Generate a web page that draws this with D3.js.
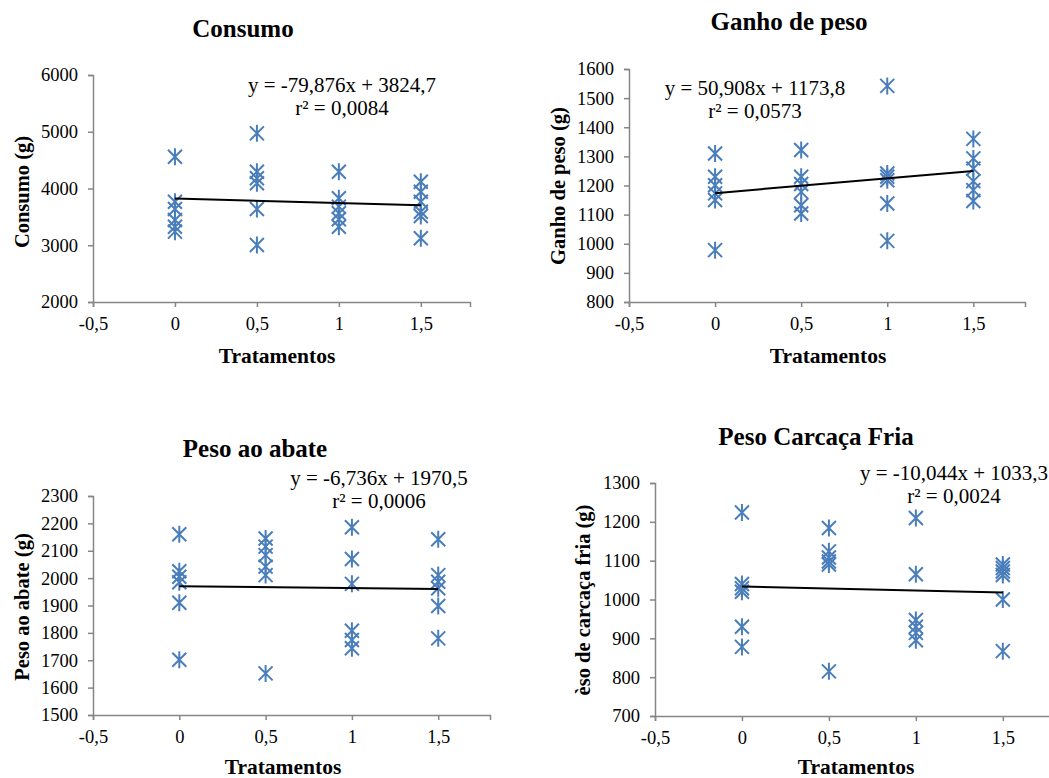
<!DOCTYPE html>
<html><head><meta charset="utf-8">
<script src="https://cdn.jsdelivr.net/npm/d3@7"></script>
<style>
html,body{margin:0;padding:0;background:#fff;}
svg{display:block;}
svg text{font-family:"Liberation Serif","Times New Roman",serif !important;}
</style></head>
<body>
<svg id="chart" width="1049" height="778"></svg>
<script>
// ---------------- DATA ----------------
const treatments = [0, 0.5, 1, 1.5];
const xTickValues = [-0.5, 0, 0.5, 1, 1.5];

// Consumo (g): six replicates per treatment
const consumo = [
  [4560, 3767, 3638, 3445, 3327, 3240],
  [4972, 4296, 4180, 4092, 3638, 3004],
  [4296, 3827, 3680, 3563, 3457, 3327],
  [4120, 3944, 3767, 3591, 3516, 3123]
];
const consumoTicks = [2000, 3000, 4000, 5000, 6000];
const consumoFit = {slope: -79.876, intercept: 3824.7};

// Ganho de peso (g)
const ganho = [
  [1310, 1230, 1201, 1173, 1150, 978],
  [1322, 1230, 1205, 1178, 1132, 1104],
  [1542, 1241, 1230, 1218, 1138, 1010],
  [1360, 1293, 1258, 1215, 1184, 1147]
];
const ganhoTicks = [800, 900, 1000, 1100, 1200, 1300, 1400, 1500, 1600];
const ganhoFit = {slope: 50.908, intercept: 1173.8};

// Peso ao abate (g)
const abate = [
  [2160, 2025, 2005, 1985, 1910, 1702],
  [2145, 2115, 2084, 2042, 2011, 1652],
  [2186, 2070, 1979, 1808, 1774, 1744],
  [2142, 2011, 1987, 1963, 1898, 1780]
];
const abateTicks = [1500, 1600, 1700, 1800, 1900, 2000, 2100, 2200, 2300];
const abateFit = {slope: -6.736, intercept: 1970.5};

// Peso carcaça fria (g)
const carcaca = [
  [1224, 1040, 1029, 1020, 930, 878],
  [1184, 1124, 1108, 1098, 1090, 815],
  [1210, 1065, 947, 930, 914, 895],
  [1090, 1081, 1072, 1063, 1000, 867]
];
const carcacaTicks = [700, 800, 900, 1000, 1100, 1200, 1300];
const carcacaFit = {slope: -10.044, intercept: 1033.3};

const titles = ["Consumo", "Ganho de peso", "Peso ao abate", "Peso Carcaça Fria"];
const yLabels = ["Consumo (g)", "Ganho de peso (g)", "Peso ao abate (g)", "èso de carcaça fria (g)"];
const xLabel = "Tratamentos";
const eqLines = [
  ["y = -79,876x + 3824,7", "r² = 0,0084"],
  ["y = 50,908x + 1173,8", "r² = 0,0573"],
  ["y = -6,736x + 1970,5", "r² = 0,0006"],
  ["y = -10,044x + 1033,3", "r² = 0,0024"]
];

// ---------------- LAYOUT ----------------
const layout = [
  {left: 93, right: 470, top: 75, bottom: 302, title: [243, 37], ylab: [22, 192], xlab: [277, 363], eq: [342, 91.7]},
  {left: 629, right: 1025, top: 69, bottom: 302, title: [789, 30], ylab: [558, 186], xlab: [828, 363], eq: [755, 95]},
  {left: 93, right: 490, top: 496, bottom: 715, title: [255, 457], ylab: [22, 607], xlab: [283, 774], eq: [379, 485]},
  {left: 655, right: 1055, top: 483, bottom: 716, title: [816, 445], ylab: [583, 600], xlab: [856, 774], eq: [954, 480]}
];

const seriesList = [consumo, ganho, abate, carcaca];
const tickList = [consumoTicks, ganhoTicks, abateTicks, carcacaTicks];
const fitList = [consumoFit, ganhoFit, abateFit, carcacaFit];

const axisColor = "#868686";
const markColor = "#4a7ebb";
const FONT = '"Liberation Serif", "Times New Roman", serif';
const fmt = d => String(d).replace(".", ",");

const svg = d3.select("#chart");

seriesList.forEach((series, i) => {
  const L = layout[i];
  const ticks = tickList[i];
  const fit = fitList[i];
  const g = svg.append("g");

  const x = d3.scaleLinear().domain([-0.5, 1.8]).range([L.left, L.right]);
  const y = d3.scaleLinear().domain([ticks[0], ticks[ticks.length - 1]]).range([L.bottom, L.top]);

  const yAxis = g.append("g").attr("transform", `translate(${L.left},0)`)
    .call(d3.axisLeft(y).tickValues(ticks).tickSize(5).tickPadding(10).tickFormat(fmt));
  const xAxis = g.append("g").attr("transform", `translate(0,${L.bottom})`)
    .call(d3.axisBottom(x).tickValues(xTickValues).tickSize(5).tickPadding(10).tickFormat(fmt));
  [yAxis, xAxis].forEach(a => {
    a.attr("font-family", null).style("font-family", FONT);
    a.selectAll("path.domain").attr("stroke", axisColor).attr("stroke-width", 1.5);
    a.selectAll(".tick line").attr("stroke", axisColor).attr("stroke-width", 1.5);
    a.selectAll(".tick text").attr("fill", "#000").attr("font-size", null)
      .style("font-size", "18.5px").style("font-family", FONT);
  });

  const pts = [];
  series.forEach((vals, k) => vals.forEach(v => pts.push([treatments[k], v])));
  const r = 7, rv = 8.5;
  const mk = g.append("g").attr("stroke", markColor).attr("stroke-width", 2).attr("fill", "none");
  mk.selectAll("path").data(pts).join("path")
    .attr("d", d => {
      const cx = x(d[0]), cy = y(d[1]);
      return `M${cx - r},${cy - r}L${cx + r},${cy + r}M${cx - r},${cy + r}L${cx + r},${cy - r}M${cx},${cy - rv}L${cx},${cy + rv}`;
    });

  const line = d3.line().x(d => x(d)).y(d => y(fit.intercept + fit.slope * d));
  g.append("path").datum([treatments[0], treatments[treatments.length - 1]])
    .attr("d", line).attr("stroke", "#000").attr("stroke-width", 2).attr("fill", "none");

  const txt = (sel) => sel.style("font-family", FONT).attr("fill", "#000");

  g.append("text").attr("x", L.title[0]).attr("y", L.title[1]).attr("text-anchor", "middle")
    .attr("font-weight", "bold").style("font-size", "25px").call(txt).text(titles[i]);

  g.append("text").attr("transform", `translate(${L.ylab[0]},${L.ylab[1]}) rotate(-90)`)
    .attr("text-anchor", "middle").attr("dy", "0.35em")
    .attr("font-weight", "bold").style("font-size", "20.5px").call(txt).text(yLabels[i]);

  g.append("text").attr("x", L.xlab[0]).attr("y", L.xlab[1]).attr("text-anchor", "middle")
    .attr("font-weight", "bold").style("font-size", "21.5px").call(txt).text(xLabel);

  eqLines[i].forEach((t, j) => {
    g.append("text").attr("x", L.eq[0]).attr("y", L.eq[1] + j * 23.3).attr("text-anchor", "middle")
      .style("font-size", "21px").call(txt).text(t);
  });
});
</script>
</body></html>
